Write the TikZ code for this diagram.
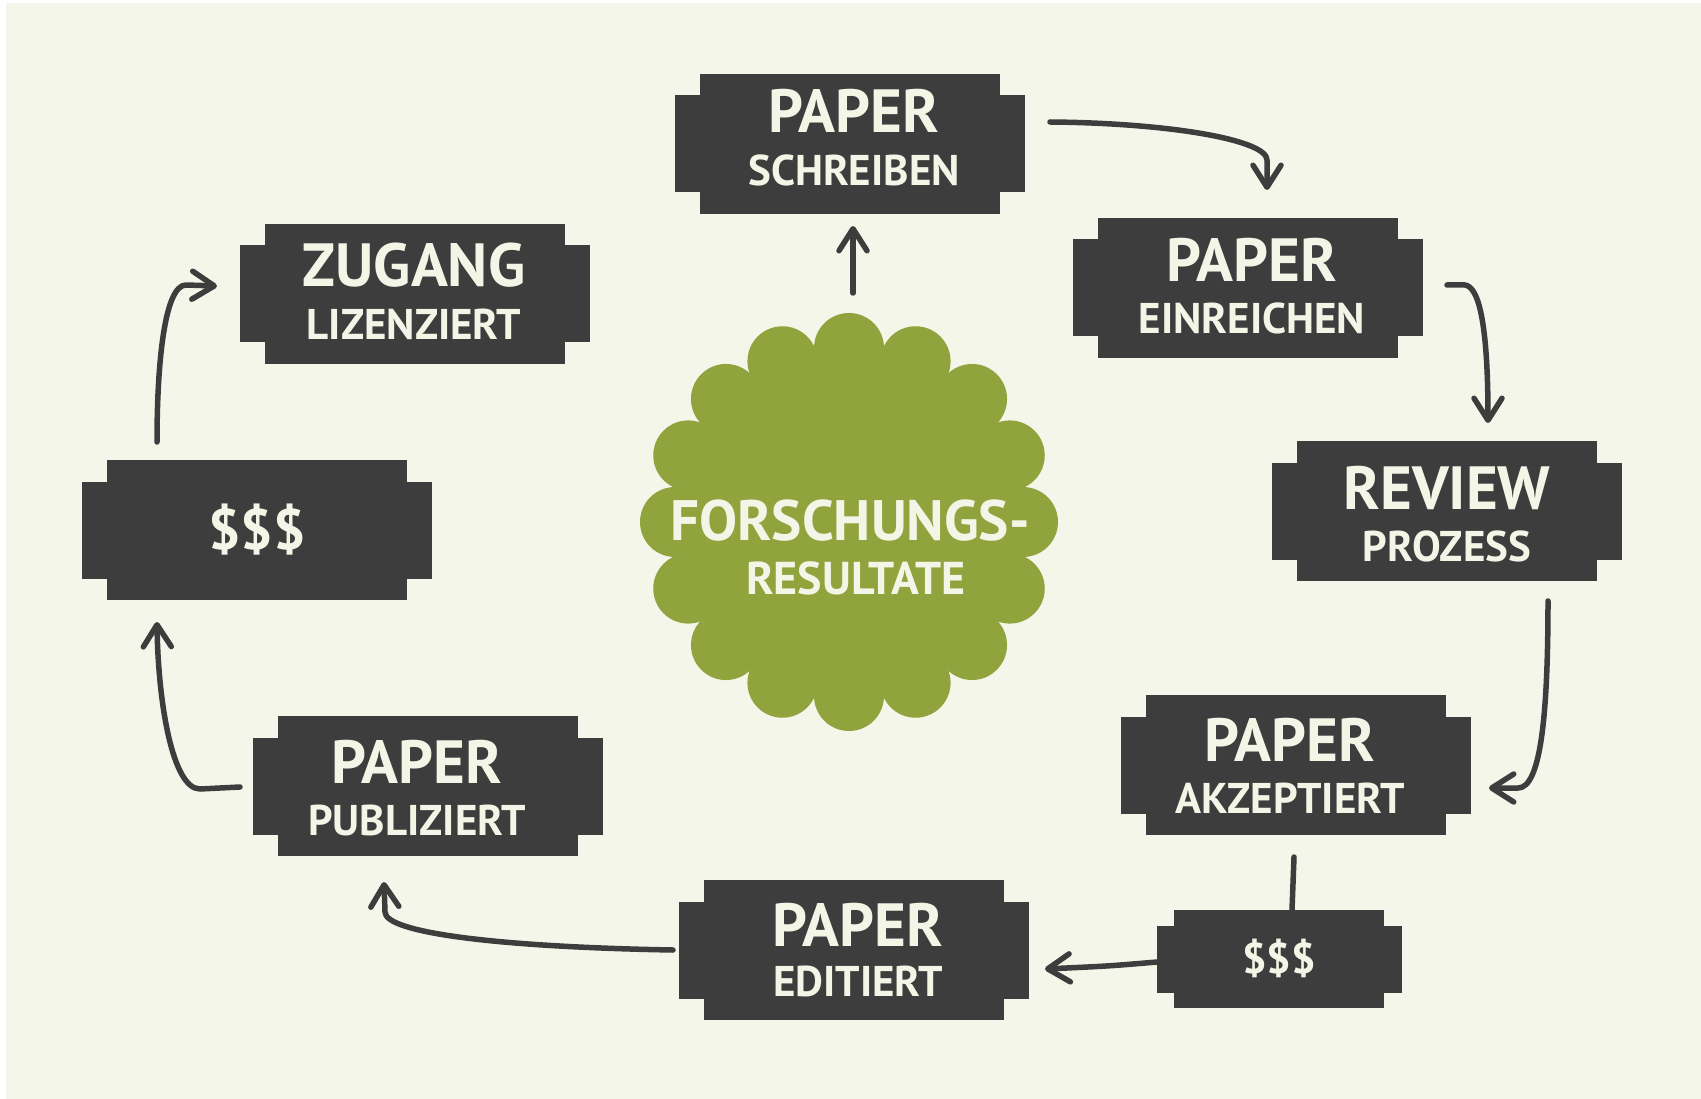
\documentclass[tikz,border=0pt]{standalone}
\usepackage{fontspec}
\newfontfamily\boxfont{PT Sans}
\usetikzlibrary{arrows.meta,calc}
\definecolor{bg}{HTML}{F4F6EA}
\definecolor{dk}{HTML}{3D3D3D}
\definecolor{gr}{HTML}{91A33D}
\definecolor{tx}{HTML}{F3F5E6}
\tikzset{
  boxmain/.style={fill=dk, draw=none, minimum width=300pt, minimum height=140pt, inner sep=0pt, outer sep=0pt},
  smallbox/.style={fill=dk, draw=none, minimum width=210pt, minimum height=98pt, inner sep=0pt, outer sep=0pt},
  bigtxt/.style={text=tx, font={\boxfont\bfseries\fontsize{61pt}{61pt}\selectfont}, anchor=base, inner sep=0pt},
  smalltxt/.style={text=tx, font={\boxfont\bfseries\fontsize{43pt}{43pt}\selectfont}, anchor=base, inner sep=0pt},
  conn/.style={draw=dk, line width=5.5pt, line cap=round, line join=round, -{Straight Barb[length=22pt,width=28pt,round]}},
  plainconn/.style={draw=dk, line width=5.5pt, line cap=round, line join=round},
}
% name, x, y, line1, line2, yoff1, yoff2, xoff
\newcommand\pbox[8]{%
  \fill[dk] ({#2-175},{#3-48.5}) rectangle ({#2+175},{#3+48.5});
  \node[boxmain] (#1) at (#2,#3) {};
  \node[bigtxt] (#1-a) at ({#2+#8},{#3+#6}) {#4};
  \node[smalltxt] (#1-b) at ({#2+#8},{#3+#7}) {#5};
}
\begin{document}
\begin{tikzpicture}[x=1pt,y=-1pt]
\useasboundingbox (0,0) rectangle (1701,1099);
\fill[white] (0,0) rectangle (1701,1099);
\fill[bg] (6,3) rectangle (1701,1099);

% cloud
\fill[gr] (849,522) circle[radius=174];
\foreach \a in {0,22.5,...,337.5} \fill[gr] ($(849,522)+(\a:174)$) circle[radius=35];
\node[circle, minimum size=418pt, inner sep=0pt] (cloud) at (849,522) {};
\node[text=tx, font={\boxfont\bfseries\fontsize{57pt}{57pt}\selectfont}, anchor=base, inner sep=0pt] (cloud-a) at (850,540) {FORSCHUNGS-};
\node[text=tx, font={\boxfont\bfseries\fontsize{46pt}{46pt}\selectfont}, anchor=base, inner sep=0pt] (cloud-b) at (856,594) {RESULTATE};

% boxes
\pbox{schreiben}{850}{144}{PAPER}{SCHREIBEN}{-11}{42}{4}
\pbox{einreichen}{1248}{288}{PAPER}{EINREICHEN}{-6}{46}{4}
\pbox{review}{1447}{511}{REVIEW}{PROZESS}{-2}{50}{0}
\pbox{akzeptiert}{1296}{765}{PAPER}{AKZEPTIERT}{-4}{48}{-6}
\pbox{editiert}{854}{950}{PAPER}{EDITIERT}{-4}{46}{4}
\pbox{publiziert}{428}{786}{PAPER}{PUBLIZIERT}{-3}{49}{-11}
\pbox{zugang}{415}{294}{ZUGANG}{LIZENZIERT}{-7}{46}{-1}

% left $$$ box
\fill[dk] (82,481.5) rectangle (432,578.5);
\node[boxmain] (geldl) at (257,530) {};
\node[text=tx, font={\boxfont\bfseries\fontsize{57pt}{57pt}\selectfont}, inner sep=0pt] (geldl-a) at (257,530) {\$\$\$};

% small $$$ box
\fill[dk] (1156.5,925.5) rectangle (1401.5,992.5);
\node[smallbox] (geldr) at (1279,959) {};
\node[text=tx, font={\boxfont\bfseries\fontsize{43pt}{43pt}\selectfont}, inner sep=0pt] (geldr-a) at (1279,958) {\$\$\$};

% connector end points
\coordinate (a0) at (853,293);  \coordinate (a1) at (853,226);
\coordinate (b0) at (1050,122); \coordinate (b1) at (1267,190);
\coordinate (c0) at (1447,285); \coordinate (c1) at (1488,423);
\coordinate (d0) at (1548,601); \coordinate (d1) at (1489,788);
\coordinate (e0) at (1294,857); \coordinate (e1) at (1292,910);
\coordinate (f0) at (1157,962); \coordinate (f1) at (1045,969);
\coordinate (g0) at (673,950);  \coordinate (g1) at (384,882);
\coordinate (h0) at (240,787);  \coordinate (h1) at (157,622);
\coordinate (i0) at (157,442);  \coordinate (i1) at (217,286);

\draw[conn] (a0) -- (a1);
\draw[conn] (b0) .. controls (1170,123) and (1267,140) .. (1267,160) -- (b1);
\draw[conn] (c0) -- (1465,285) .. controls (1480,287) and (1488,330) .. (c1);
\draw[conn] (d0) .. controls (1548,720) and (1540,788) .. (1518,788) -- (d1);
\draw[plainconn] (e0) -- (e1);
\draw[conn] (f0) .. controls (1110,966) .. (f1);
\draw[conn] (g0) .. controls (500,947) and (385,933) .. (385,912) -- (g1);
\draw[conn] (h0) -- (200,789) .. controls (172,789) and (158,700) .. (h1);
\draw[conn] (i0) .. controls (157,360) and (165,285) .. (186,285) -- (i1);
\end{tikzpicture}
\end{document}
